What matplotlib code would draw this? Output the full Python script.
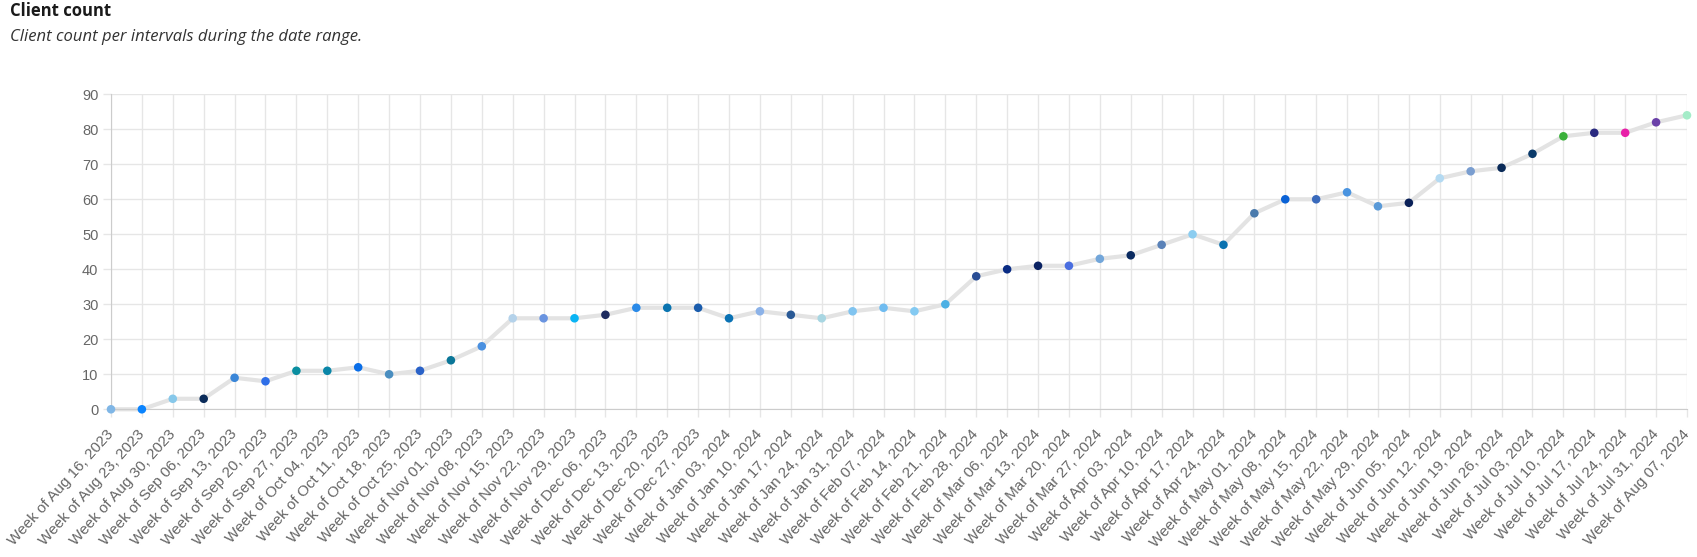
import matplotlib.pyplot as plt

# Weekly client counts
weeks = [
    "Aug 16, 2023", "Aug 23, 2023", "Aug 30, 2023", "Sep 06, 2023", "Sep 13, 2023",
    "Sep 20, 2023", "Sep 27, 2023", "Oct 04, 2023", "Oct 11, 2023", "Oct 18, 2023",
    "Oct 25, 2023", "Nov 01, 2023", "Nov 08, 2023", "Nov 15, 2023", "Nov 22, 2023",
    "Nov 29, 2023", "Dec 06, 2023", "Dec 13, 2023", "Dec 20, 2023", "Dec 27, 2023",
    "Jan 03, 2024", "Jan 10, 2024", "Jan 17, 2024", "Jan 24, 2024", "Jan 31, 2024",
    "Feb 07, 2024", "Feb 14, 2024", "Feb 21, 2024", "Feb 28, 2024", "Mar 06, 2024",
    "Mar 13, 2024", "Mar 20, 2024", "Mar 27, 2024", "Apr 03, 2024", "Apr 10, 2024",
    "Apr 17, 2024", "Apr 24, 2024", "May 01, 2024", "May 08, 2024", "May 15, 2024",
    "May 22, 2024", "May 29, 2024", "Jun 05, 2024", "Jun 12, 2024", "Jun 19, 2024",
    "Jun 26, 2024", "Jul 03, 2024", "Jul 10, 2024", "Jul 17, 2024", "Jul 24, 2024",
    "Jul 31, 2024", "Aug 07, 2024",
]
counts = [
    0, 0, 3, 3, 9, 8, 11, 11, 12, 10,
    11, 14, 18, 26, 26, 26, 27, 29, 29, 29,
    26, 28, 27, 26, 28, 29, 28, 30, 38, 40,
    41, 41, 43, 44, 47, 50, 47, 56, 60, 60,
    62, 58, 59, 66, 68, 69, 73, 78, 79, 79,
    82, 84,
]
point_colors = [
    "#7fb6e6", "#0a84ff", "#87c8ea", "#0b2c5a", "#3a86d8",
    "#2f6fe8", "#0a8ea0", "#0a86a8", "#0a6ee8", "#4a8ec0",
    "#2a62c8", "#0a7698", "#4a90e0", "#b4d2ea", "#6a94e0",
    "#0ab4f4", "#1e2c60", "#2a8ae8", "#0a74b0", "#1a5cac",
    "#0a72b4", "#8cb2e8", "#2a5a96", "#a8d6e2", "#80c4f0",
    "#70bcf0", "#84caf2", "#4cb0e4", "#284c94", "#0a2c84",
    "#0a2262", "#4a6ee0", "#72a6da", "#0a2a60", "#5a82b8",
    "#8ccdf0", "#0a72b0", "#4a7aac", "#0a62d6", "#3a6abc",
    "#4a94e0", "#5a9ad8", "#0a2058", "#b4daf2", "#7a9ed0",
    "#0a2a58", "#0a3a6a", "#3ab03a", "#2a2a80", "#e820a8",
    "#6a40a8", "#a4ecc8",
]

labels = ["Week of " + w for w in weeks]
x = list(range(len(counts)))

fig = plt.figure(figsize=(16.97, 5.57), dpi=100)
ax = fig.add_axes([0.0654, 0.2652, 0.9287, 0.5655])

ax.plot(x, counts, color="#e3e3e3", linewidth=3, zorder=2, clip_on=False)
ax.scatter(x, counts, c=point_colors, s=38, zorder=3, clip_on=False, linewidths=0)

ax.set_xlim(0, len(counts) - 1)
ax.set_ylim(0, 90)
ax.set_yticks(range(0, 91, 10))
ax.set_xticks(x)
ax.set_xticklabels(labels, rotation=48, ha="right", va="center", rotation_mode="anchor",
                   family="Liberation Sans", fontsize=11, color="#666666")
for lab in ax.get_yticklabels():
    lab.set_family("Liberation Sans")
    lab.set_fontsize(10.5)
    lab.set_color("#666666")

ax.grid(True, color="#e6e6e6", linewidth=1)
ax.set_axisbelow(True)
ax.tick_params(axis="both", length=6, width=1, color="#e6e6e6")
ax.tick_params(axis="y", pad=3)
ax.tick_params(axis="x", pad=10)
for side in ["top", "right"]:
    ax.spines[side].set_visible(False)
for side in ["left", "bottom"]:
    ax.spines[side].set_color("#cccccc")

fig.text(0.006, 0.980, "Client count", fontsize=12, fontweight="bold",
         family="Open Sans", color="#1a1a1a", va="center")
fig.text(0.006, 0.934, "Client count per intervals during the date range.",
         fontsize=12, style="italic", family="Open Sans", color="#333333", va="center")

fig.savefig("out.png", dpi=100)
